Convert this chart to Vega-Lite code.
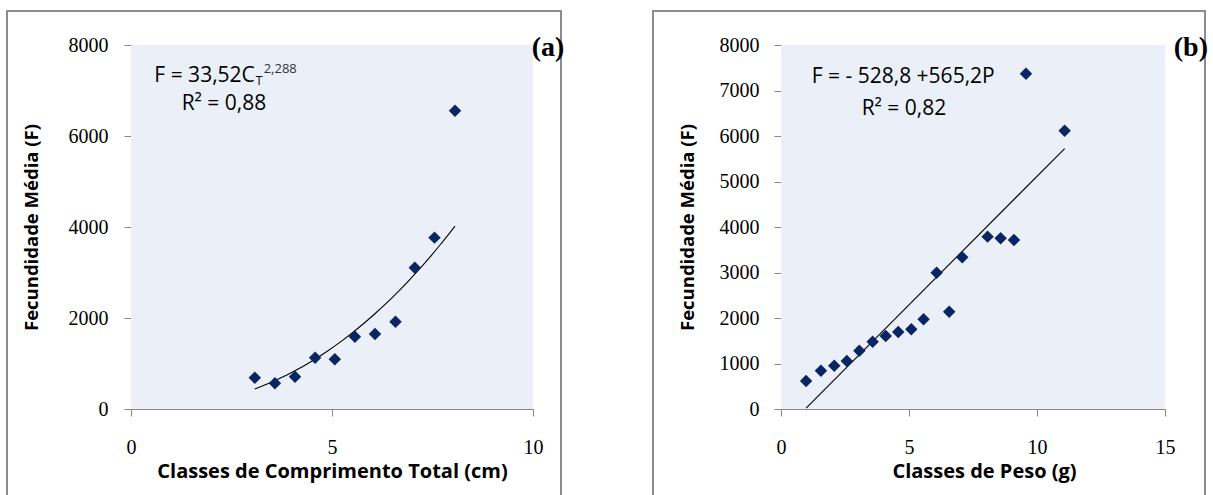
{
  "$schema": "https://vega.github.io/schema/vega-lite/v6.json",
  "background": "white",
  "padding": {"left": 6, "top": 10, "right": 0, "bottom": 0},
  "spacing": 92,
  "bounds": "flush",
  "config": {
    "view": {"stroke": "#8c8c8c", "strokeWidth": 2, "fill": "white"},
    "axis": {
      "grid": false,
      "domainColor": "#868686",
      "tickColor": "#868686",
      "domainWidth": 1,
      "tickWidth": 1,
      "tickSize": 7,
      "format": "d",
      "labelFont": "Liberation Serif",
      "labelFontSize": 20,
      "labelColor": "black",
      "labelFlush": false,
      "labelOverlap": false,
      "titleFont": "Open Sans",
      "titleFontWeight": "bold",
      "titleColor": "black"
    },
    "axisX": {"titleFontSize": 20},
    "axisY": {"titleFontSize": 18.5},
    "text": {"font": "Open Sans", "fontSize": 21, "color": "black"}
  },
  "datasets": {
    "one": [{}],
    "a": [
      {"x": 3.08, "f": 688},
      {"x": 3.58, "f": 565},
      {"x": 4.08, "f": 710},
      {"x": 4.58, "f": 1128},
      {"x": 5.07, "f": 1092},
      {"x": 5.57, "f": 1590},
      {"x": 6.07, "f": 1648},
      {"x": 6.58, "f": 1919},
      {"x": 7.06, "f": 3106},
      {"x": 7.55, "f": 3766},
      {"x": 8.06, "f": 6555}
    ],
    "b": [
      {"x": 0.98, "f": 615},
      {"x": 1.56, "f": 842},
      {"x": 2.08, "f": 952},
      {"x": 2.57, "f": 1055},
      {"x": 3.06, "f": 1282},
      {"x": 3.58, "f": 1480},
      {"x": 4.09, "f": 1605},
      {"x": 4.58, "f": 1692},
      {"x": 5.09, "f": 1751},
      {"x": 5.57, "f": 1971},
      {"x": 6.08, "f": 2996},
      {"x": 6.57, "f": 2139},
      {"x": 7.08, "f": 3334},
      {"x": 8.07, "f": 3788},
      {"x": 8.58, "f": 3752},
      {"x": 9.1, "f": 3715},
      {"x": 9.57, "f": 7370},
      {"x": 11.08, "f": 6117}
    ]
  },
  "hconcat": [
    {
      "width": 554,
      "height": 486,
      "layer": [
        {
          "data": {"name": "one"},
          "mark": {"type": "rect", "fill": "#EBF0F8"},
          "encoding": {
            "x": {
              "datum": 0, "type": "quantitative",
              "title": "Classes de Comprimento Total (cm)",
              "scale": {"domain": [0, 10], "range": [124, 526], "nice": false, "zero": false},
              "axis": {"orient": "bottom", "offset": -88, "values": [0, 5, 10], "labelPadding": 21, "titleX": 325, "titleY": 68, "titleBaseline": "alphabetic", "titleAlign": "center"}
            },
            "x2": {"datum": 10},
            "y": {
              "datum": 0, "type": "quantitative",
              "title": "Fecundidade Média (F)",
              "scale": {"domain": [0, 8000], "range": [398, 34], "nice": false, "zero": false},
              "axis": {"orient": "left", "offset": -124, "values": [0, 2000, 4000, 6000, 8000], "labelPadding": 16, "titleX": -90, "titleY": 216, "titleAngle": -90, "titleAlign": "center", "titleBaseline": "bottom"}
            },
            "y2": {"datum": 8000}
          }
        },
        {
          "data": {"name": "a"},
          "transform": [{"regression": "f", "on": "x", "method": "pow"}],
          "mark": {"type": "line", "color": "black", "strokeWidth": 1.1},
          "encoding": {
            "x": {"field": "x", "type": "quantitative", "title": "Classes de Comprimento Total (cm)"},
            "y": {"field": "f", "type": "quantitative", "title": "Fecundidade Média (F)"}
          }
        },
        {
          "data": {"name": "a"},
          "mark": {"type": "point", "shape": "diamond", "filled": true, "size": 155, "color": "#0a2563", "opacity": 1},
          "encoding": {
            "x": {"field": "x", "type": "quantitative", "title": "Classes de Comprimento Total (cm)"},
            "y": {"field": "f", "type": "quantitative", "title": "Fecundidade Média (F)"}
          }
        },
        {
          "data": {"name": "one"},
          "mark": {"type": "text", "text": "F = 33,52C", "align": "right", "baseline": "alphabetic"},
          "encoding": {"x": {"datum": 3.08, "type": "quantitative", "title": "Classes de Comprimento Total (cm)"}, "y": {"datum": 7194, "type": "quantitative", "title": "Fecundidade Média (F)"}}
        },
        {
          "data": {"name": "one"},
          "mark": {"type": "text", "text": "T", "align": "left", "baseline": "alphabetic", "fontSize": 12, "dx": 1},
          "encoding": {"x": {"datum": 3.08, "type": "quantitative", "title": "Classes de Comprimento Total (cm)"}, "y": {"datum": 7121, "type": "quantitative", "title": "Fecundidade Média (F)"}}
        },
        {
          "data": {"name": "one"},
          "mark": {"type": "text", "text": "2,288", "align": "left", "baseline": "alphabetic", "fontSize": 13, "color": "#333333"},
          "encoding": {"x": {"datum": 3.3, "type": "quantitative", "title": "Classes de Comprimento Total (cm)"}, "y": {"datum": 7385, "type": "quantitative", "title": "Fecundidade Média (F)"}}
        },
        {
          "data": {"name": "one"},
          "mark": {"type": "text", "text": "R² = 0,88", "align": "left", "baseline": "alphabetic"},
          "encoding": {"x": {"datum": 1.26, "type": "quantitative", "title": "Classes de Comprimento Total (cm)"}, "y": {"datum": 6571, "type": "quantitative", "title": "Fecundidade Média (F)"}}
        },
        {
          "data": {"name": "one"},
          "mark": {"type": "text", "text": "(a)", "align": "right", "baseline": "alphabetic", "font": "Liberation Serif", "fontWeight": "bold", "fontSize": 28},
          "encoding": {"x": {"datum": 10.78, "type": "quantitative", "title": "Classes de Comprimento Total (cm)"}, "y": {"datum": 7760, "type": "quantitative", "title": "Fecundidade Média (F)"}}
        }
      ]
    },
    {
      "width": 552,
      "height": 486,
      "layer": [
        {
          "data": {"name": "one"},
          "mark": {"type": "rect", "fill": "#EBF0F8"},
          "encoding": {
            "x": {
              "datum": 0, "type": "quantitative",
              "title": "Classes de Peso (g)",
              "scale": {"domain": [0, 15], "range": [128, 512], "nice": false, "zero": false},
              "axis": {"orient": "bottom", "offset": -88, "values": [0, 5, 10, 15], "labelPadding": 21, "titleX": 331, "titleY": 68, "titleBaseline": "alphabetic", "titleAlign": "center"}
            },
            "x2": {"datum": 15},
            "y": {
              "datum": 0, "type": "quantitative",
              "title": "Fecundidade Média (F)",
              "scale": {"domain": [0, 8000], "range": [398, 34], "nice": false, "zero": false},
              "axis": {"orient": "left", "offset": -128, "values": [0, 1000, 2000, 3000, 4000, 5000, 6000, 7000, 8000], "labelPadding": 15, "titleX": -84, "titleY": 216, "titleAngle": -90, "titleAlign": "center", "titleBaseline": "bottom"}
            },
            "y2": {"datum": 8000}
          }
        },
        {
          "data": {"name": "b"},
          "transform": [{"regression": "f", "on": "x", "method": "linear"}],
          "mark": {"type": "line", "color": "black", "strokeWidth": 1.1},
          "encoding": {
            "x": {"field": "x", "type": "quantitative", "title": "Classes de Peso (g)"},
            "y": {"field": "f", "type": "quantitative", "title": "Fecundidade Média (F)"}
          }
        },
        {
          "data": {"name": "b"},
          "mark": {"type": "point", "shape": "diamond", "filled": true, "size": 155, "color": "#0a2563", "opacity": 1},
          "encoding": {
            "x": {"field": "x", "type": "quantitative", "title": "Classes de Peso (g)"},
            "y": {"field": "f", "type": "quantitative", "title": "Fecundidade Média (F)"}
          }
        },
        {
          "data": {"name": "one"},
          "mark": {"type": "text", "text": "F = - 528,8 +565,2P", "align": "left", "baseline": "alphabetic"},
          "encoding": {"x": {"datum": 1.2, "type": "quantitative", "title": "Classes de Peso (g)"}, "y": {"datum": 7165, "type": "quantitative", "title": "Fecundidade Média (F)"}}
        },
        {
          "data": {"name": "one"},
          "mark": {"type": "text", "text": "R² = 0,82", "align": "left", "baseline": "alphabetic"},
          "encoding": {"x": {"datum": 3.15, "type": "quantitative", "title": "Classes de Peso (g)"}, "y": {"datum": 6462, "type": "quantitative", "title": "Fecundidade Média (F)"}}
        },
        {
          "data": {"name": "one"},
          "mark": {"type": "text", "text": "(b)", "align": "right", "baseline": "alphabetic", "font": "Liberation Serif", "fontWeight": "bold", "fontSize": 28},
          "encoding": {"x": {"datum": 16.68, "type": "quantitative", "title": "Classes de Peso (g)"}, "y": {"datum": 7760, "type": "quantitative", "title": "Fecundidade Média (F)"}}
        }
      ]
    }
  ]
}
